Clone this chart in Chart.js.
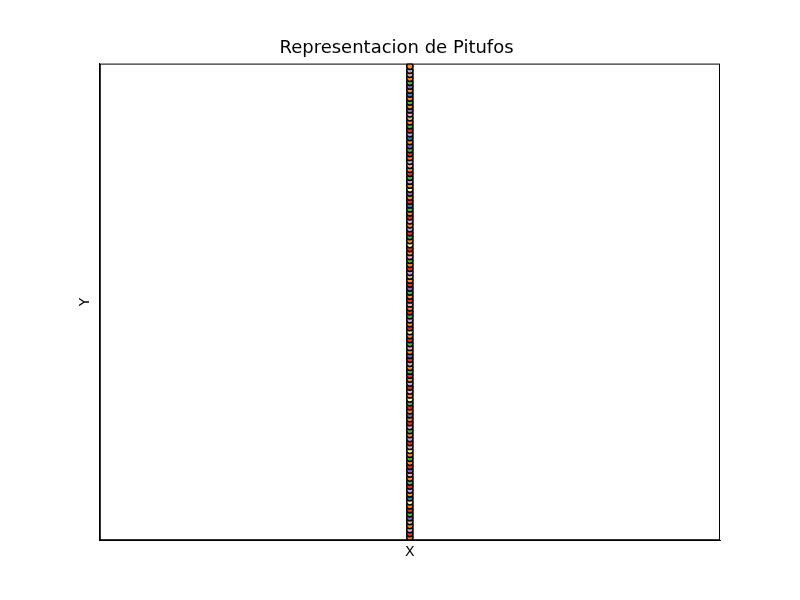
<!DOCTYPE html>
<html>
<head>
<script src="https://cdn.jsdelivr.net/npm/chart.js@4"></script>
<style>body{margin:0;background:#fff}#wrap{width:800px;height:600px}</style>
</head>
<body>
<div id="wrap"><canvas id="chart"></canvas></div>
<script>
// y positions of each pitufo (all share x = 0)
const pitufoY = [
  1,2,3,4,5,6,7,8,9,10,11,12,13,14,15,16,17,18,19,20,
  21,22,23,24,25,26,27,28,29,30,31,32,33,34,35,36,37,38,39,40,
  41,42,43,44,45,46,47,48,49,50,51,52,53,54,55,56,57,58,59,60,
  61,62,63,64,65,66,67,68,69,70,71,72,73,74,75,76,77,78,79,80,
  81,82,83,84,85,86,87,88,89,90,91,92,93,94,95,96,97,98,99,100,
  101,102,103,104,105,106,107,108,109,110,111,112,113,114,115,116,117,118,119,120
];
const O = '#ff8c1a', L = '#c8a2d8', P = '#8a6ab0', G = '#55b04a', R = '#e8302a',
      B = '#3a7fc0', K = '#f0a8c8', Y = '#fff5a0', W = '#d8b0a8';
const pitufoColors = [
  O,R,K,O,W,P,G,R,O,Y,B,O,L,R,G,O,K,P,R,O,
  G,O,Y,W,R,L,O,G,K,R,O,P,O,R,G,Y,O,K,R,L,
  O,R,G,O,W,R,P,O,K,G,R,O,Y,R,O,L,G,R,O,K,
  R,O,G,P,R,O,W,L,R,O,G,K,O,R,Y,O,G,R,L,O,
  K,R,O,G,B,R,O,P,Y,O,L,G,R,O,K,W,O,R,G,P,
  O,B,L,R,G,O,W,K,P,O,G,O,B,O,P,G,O,W,L,O
];

new Chart(document.getElementById('chart'), {
  type: 'scatter',
  data: {
    datasets: [{
      data: pitufoY.map(y => ({ x: 0, y: y })),
      backgroundColor: pitufoColors,
      borderColor: '#000',
      borderWidth: 1.5,
      pointRadius: 3.2
    }]
  },
  options: {
    responsive: true,
    maintainAspectRatio: false,
    animation: false,
    layout: { padding: { left: 73, right: 80, top: 14, bottom: 35 } },
    plugins: {
      legend: { display: false },
      tooltip: { enabled: false },
      title: {
        display: true,
        text: 'Representacion de Pitufos',
        color: '#000',
        font: { family: 'DejaVu Sans', size: 18, weight: 'normal' },
        padding: { top: 24, bottom: 4 }
      }
    },
    scales: {
      x: {
        min: -1, max: 1,
        grid: { display: false, drawTicks: false },
        border: { color: '#000' },
        ticks: { display: false },
        title: { display: true, text: 'X', color: '#000', font: { family: 'DejaVu Sans', size: 14 }, padding: { top: 4 } }
      },
      y: {
        min: 0.3, max: 120.7,
        grid: { display: false, drawTicks: false },
        border: { color: '#000' },
        ticks: { display: false },
        title: { display: true, text: 'Y', color: '#000', font: { family: 'DejaVu Sans', size: 14 }, padding: { bottom: 6 } }
      }
    }
  },
  plugins: [{
    id: 'frame',
    afterDraw(c) {
      const a = c.chartArea, ctx = c.ctx;
      ctx.save();
      ctx.strokeStyle = '#000';
      ctx.lineWidth = 1;
      ctx.strokeRect(a.left + 0.5, a.top + 0.5, a.right - a.left - 1, a.bottom - a.top - 1);
      ctx.restore();
    }
  }]
});
</script>
</body>
</html>
